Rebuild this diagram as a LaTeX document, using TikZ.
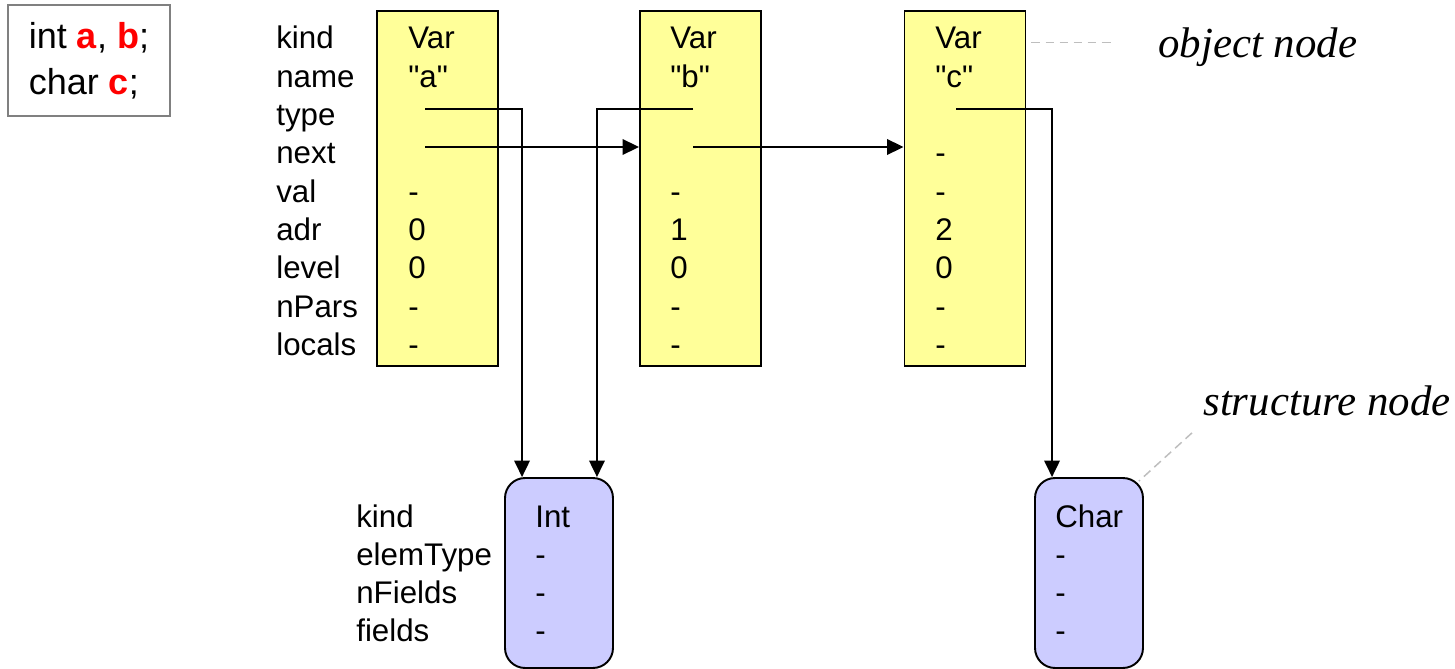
\documentclass[tikz,border=0pt]{standalone}
\usepackage{fontspec}
\setmainfont{Liberation Sans}
\newfontfamily\notefont{Liberation Serif}
\usepackage{xcolor}
\usepackage{tikz}
\usetikzlibrary{arrows.meta, positioning, calc}
\definecolor{objyellow}{RGB}{255,255,153}
\definecolor{structblue}{RGB}{204,204,255}
\definecolor{notegray}{RGB}{190,190,190}
\definecolor{codegray}{RGB}{128,128,128}
\newcommand{\fieldfont}{\fontsize{17.8}{21.4}\selectfont}
\newcommand{\declname}[1]{\textcolor{red}{\textbf{#1}}}
\newcommand{\qname}[1]{\textquotedbl#1\textquotedbl}

\begin{document}
\begin{tikzpicture}[
    x=0.02cm, y=-0.02cm,
    fieldlbl/.style={anchor=base west, inner sep=0pt, font=\fieldfont},
    objbox/.style={draw, fill=objyellow, line width=1.1pt, minimum width=2.42cm, minimum height=7.1cm, inner sep=0pt},
    structbox/.style={draw, fill=structblue, line width=1.1pt, rounded corners=0.4cm, minimum width=2.16cm, minimum height=3.8cm, inner sep=0pt},
    codebox/.style={draw=codegray, line width=1.1pt, minimum width=3.24cm, minimum height=2.22cm, align=left, font=\fontsize{20.5}{26.2}\selectfont},
    ptr/.style={line width=1.1pt, -{Triangle[length=0.33cm, width=0.31cm]}},
    note/.style={inner sep=0pt, anchor=base west, font=\notefont\itshape\fontsize{24.4}{28}\selectfont},
    notelink/.style={draw=notegray, line width=0.85pt, dash pattern=on 5pt off 3pt}
]
    \useasboundingbox (0,0) rectangle (1455,669);

    % declaration
    \node[codebox] (code) at (89,60.5) {int \declname{a}, \declname{b};\\char \declname{c};};

    % object nodes
    \node[objbox] (oa) at (437.5,188.5) {};
    \node[objbox] (ob) at (700.5,188.5) {};
    \node[objbox] (oc) at (965,188.5) {};

    \foreach \lbl [count=\i] in {kind,name,type,next,val,adr,level,nPars,locals}
        \node[fieldlbl] (f\i) at (276,{49+38.3*(\i-1)}) {\lbl};
    \foreach \r/\v in {1/Var,2/\qname{a},5/-,6/0,7/0,8/-,9/-}
        \node[fieldlbl] (a\r) at (408,{49+38.3*(\r-1)}) {\v};
    \foreach \r/\v in {1/Var,2/\qname{b},5/-,6/1,7/0,8/-,9/-}
        \node[fieldlbl] (b\r) at (670,{49+38.3*(\r-1)}) {\v};
    \foreach \r/\v in {1/Var,2/\qname{c},4/-,5/-,6/2,7/0,8/-,9/-}
        \node[fieldlbl] (c\r) at (935,{49+38.3*(\r-1)}) {\v};

    % structure nodes
    \node[structbox] (int) at (559,573) {};
    \node[structbox] (chr) at (1089,573) {};

    \foreach \lbl [count=\i] in {kind,elemType,nFields,fields}
        \node[fieldlbl] (s\i) at (356,{527+38.3*(\i-1)}) {\lbl};
    \foreach \v [count=\i] in {Int,-,-,-}
        \node[fieldlbl] (i\i) at (535,{527+38.3*(\i-1)}) {\v};
    \foreach \v [count=\i] in {Char,-,-,-}
        \node[fieldlbl] (h\i) at (1055,{527+38.3*(\i-1)}) {\v};

    % pointers
    \coordinate (ta) at (425,109);
    \coordinate (na) at (425,147);
    \coordinate (tb) at (693,109);
    \coordinate (nb) at (693,147);
    \coordinate (tc) at (956,109);

    \draw[ptr] (ta) -| ([xshift=0.36cm]int.north west);
    \draw[ptr] (na) -- (na -| ob.west);
    \draw[ptr] (tb) -| ([xshift=-0.34cm]int.north east);
    \draw[ptr] (nb) -- (nb -| oc.west);
    \draw[ptr] (tc) -| ([xshift=0.36cm]chr.north west);

    % annotations
    \node[note] (objnote) at (1158,58) {object node};
    \node[note] (strnote) at (1203,415) {structure node};
    \draw[notelink] ($(oc.east |- objnote.west)+(0.1cm,0.1cm)$) -- ([xshift=-0.9cm, yshift=0.1cm]objnote.west);
    \draw[notelink] ([xshift=-0.22cm, yshift=-0.34cm]strnote.south west) -- ([xshift=-0.1cm, yshift=-0.08cm]chr.north east);
\end{tikzpicture}
\end{document}
